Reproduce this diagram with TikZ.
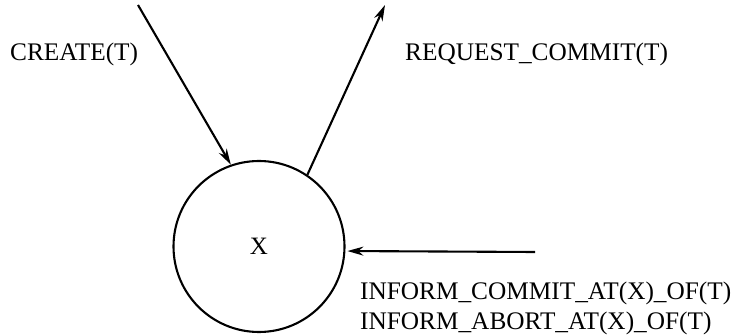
\documentclass[tikz,border=0pt]{standalone}
\usepackage{fontspec}
\setmainfont{Liberation Serif}
\usetikzlibrary{arrows.meta}
\begin{document}
\begin{tikzpicture}[x=1pt,y=-1pt,
  lbl/.style={font=\fontsize{25.3}{30}\selectfont, inner sep=0pt},
  conn/.style={line width=2.1pt, -{Stealth[length=16pt,width=9pt]}},
  state/.style={circle, draw, line width=2.1pt, minimum size=171pt, inner sep=0pt, font=\fontsize{25}{30}\selectfont}]
\useasboundingbox (0,0) rectangle (734,336);
\node[state] (X) at (259,246.5) {X};
\coordinate (cin) at (138,5);
\coordinate (rout) at (385,5);
\coordinate (iin) at (535,252);
\draw[conn] (cin) -- (X.109);
\draw[conn] (X.56) -- (rout);
\draw[conn, shorten >=2pt] (iin) -- (X.-3);
\node[lbl, anchor=base west] (lc) at (10,61) {CREATE(T)};
\node[lbl, anchor=base west] (lr) at (405,61) {REQUEST\_COMMIT(T)};
\node[lbl, anchor=base west] (li1) at (360,300) {INFORM\_COMMIT\_AT(X)\_OF(T)};
\node[lbl, anchor=base west] (li2) at (360,330) {INFORM\_ABORT\_AT(X)\_OF(T)};
\end{tikzpicture}
\end{document}
